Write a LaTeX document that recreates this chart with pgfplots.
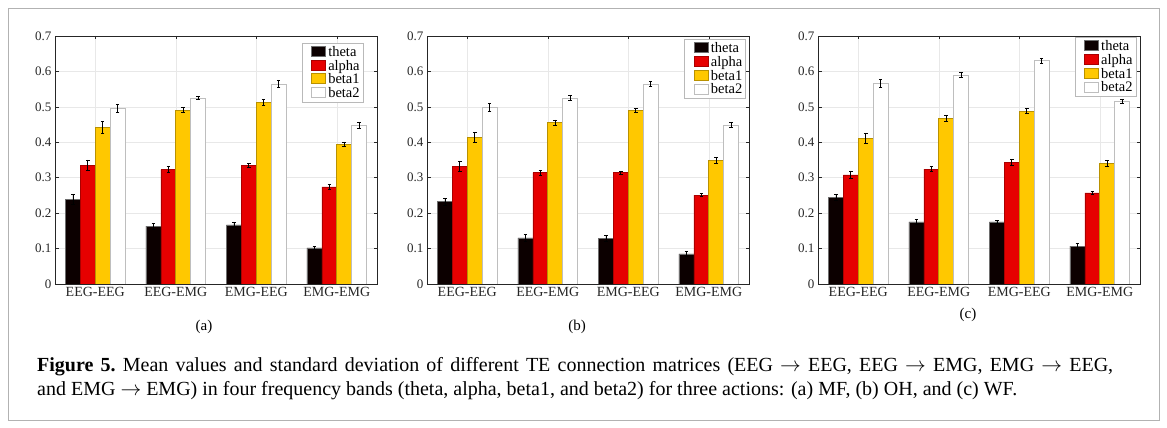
\documentclass[border=0pt]{standalone}
\usepackage{pgfplots}
\usepackage{pgfplotstable}
\pgfplotsset{compat=1.18}
\usepackage{fontspec}
\setmainfont{Liberation Serif}

\definecolor{cTheta}{RGB}{12,0,0}
\definecolor{cAlpha}{RGB}{230,0,0}
\definecolor{cBetaA}{RGB}{255,200,0}
\definecolor{eTheta}{RGB}{110,110,110}
\definecolor{eAlpha}{RGB}{170,0,0}
\definecolor{eBetaA}{RGB}{185,145,0}
\definecolor{eBetaB}{RGB}{190,190,190}
\definecolor{tickc}{RGB}{38,38,38}

% columns: x, theta (mean, sd), alpha, beta1, beta2
\pgfplotstableread{
x t te a ae b be c ce
1 0.239 0.014 0.335 0.015 0.443 0.017 0.495 0.012
2 0.163 0.008 0.323 0.009 0.491 0.008 0.525 0.005
3 0.167 0.008 0.335 0.005 0.513 0.008 0.564 0.010
4 0.102 0.005 0.274 0.008 0.395 0.006 0.447 0.009
}\dataA
\pgfplotstableread{
x t te a ae b be c ce
1 0.232 0.011 0.332 0.013 0.414 0.015 0.498 0.011
2 0.130 0.009 0.314 0.007 0.455 0.008 0.525 0.006
3 0.128 0.008 0.314 0.005 0.489 0.006 0.565 0.007
4 0.085 0.008 0.251 0.004 0.348 0.008 0.449 0.007
}\dataB
\pgfplotstableread{
x t te a ae b be c ce
1 0.244 0.008 0.308 0.011 0.411 0.014 0.567 0.011
2 0.175 0.007 0.324 0.007 0.468 0.008 0.590 0.007
3 0.175 0.005 0.343 0.008 0.488 0.007 0.630 0.008
4 0.107 0.008 0.257 0.005 0.340 0.008 0.515 0.006
}\dataC

\pgfplotsset{
  panel/.style={
    scale only axis, width=322pt, height=248pt,
    anchor=north west,
    ybar=0pt, bar width=0.185,
    xmin=0.5, xmax=4.5, ymin=0, ymax=0.7,
    xtick={1,2,3,4}, xticklabels={EEG-EEG,EEG-EMG,EMG-EEG,EMG-EMG},
    ytick={0,0.1,0.2,0.3,0.4,0.5,0.6,0.7},
    yticklabels={0,0.1,0.2,0.3,0.4,0.5,0.6,0.7},
    tick align=inside, xtick pos=both, ytick pos=both,
    major tick length=3.5pt,
    tick style={black!85, line width=0.5pt},
    axis line style={black!85, line width=0.7pt},
    grid=major, major grid style={black!9, line width=0.5pt},
    xticklabel style={font=\fontsize{14}{15}\selectfont, text=tickc},
    yticklabel style={font=\fontsize{13}{14}\selectfont, text=tickc},
    legend style={draw=gray!55, line width=0.6pt, fill=white,
      font=\fontsize{14.5}{15}\selectfont, inner sep=1.2pt, row sep=-1.8pt,
      cells={anchor=west, inner ysep=0.5pt, inner xsep=1pt}},
    legend cell align=left,
    legend image code/.code={\path[draw=none, fill=none] (0pt,0pt) -- (23pt,0pt);
      \draw[#1] (8pt,-4.3pt) rectangle (22pt,5.7pt);},
  },
  eb/.style={error bars/.cd, y dir=both, y explicit,
    error bar style={black, line width=0.8pt},
    error mark options={rotate=90, mark size=1.8pt, black, line width=0.8pt}},
  sT/.style={fill=cTheta, draw=eTheta, line width=0.6pt, bar shift=-0.2775},
  sA/.style={fill=cAlpha, draw=eAlpha, line width=0.6pt, bar shift=-0.0925},
  sB/.style={fill=cBetaA, draw=eBetaA, line width=0.6pt, bar shift=0.0925},
  sC/.style={fill=white, draw=eBetaB, line width=0.6pt, bar shift=0.2775},
}

\begin{document}
\begin{tikzpicture}
\path (0,0) rectangle (1167pt,428pt);
\draw[gray!60, line width=0.8pt] (8pt,8pt) rectangle (1159pt,420pt);

\begin{axis}[panel, at={(55pt,392pt)},
  legend style={at={(0.957,0.973)}, anchor=north east}]
\addplot[sT, eb] table[x=x, y=t, y error=te]{\dataA};
\addplot[sA, eb] table[x=x, y=a, y error=ae]{\dataA};
\addplot[sB, eb] table[x=x, y=b, y error=be]{\dataA};
\addplot[sC, eb] table[x=x, y=c, y error=ce]{\dataA};
\legend{theta,alpha,beta1,beta2}
\end{axis}

\begin{axis}[panel, at={(427pt,392pt)},
  legend style={at={(0.99,0.988)}, anchor=north east}]
\addplot[sT, eb] table[x=x, y=t, y error=te]{\dataB};
\addplot[sA, eb] table[x=x, y=a, y error=ae]{\dataB};
\addplot[sB, eb] table[x=x, y=b, y error=be]{\dataB};
\addplot[sC, eb] table[x=x, y=c, y error=ce]{\dataB};
\legend{theta,alpha,beta1,beta2}
\end{axis}

\begin{axis}[panel, at={(818pt,392pt)},
  legend style={at={(0.988,0.996)}, anchor=north east}]
\addplot[sT, eb] table[x=x, y=t, y error=te]{\dataC};
\addplot[sA, eb] table[x=x, y=a, y error=ae]{\dataC};
\addplot[sB, eb] table[x=x, y=b, y error=be]{\dataC};
\addplot[sC, eb] table[x=x, y=c, y error=ce]{\dataC};
\legend{theta,alpha,beta1,beta2}
\end{axis}

\node[font=\fontsize{15}{16}\selectfont] at (204pt,101pt) {(a)};
\node[font=\fontsize{15}{16}\selectfont] at (577pt,101pt) {(b)};
\node[font=\fontsize{15}{16}\selectfont] at (968pt,113pt) {(c)};

\node[anchor=west, align=left, inner sep=0pt, font=\fontsize{20}{24}\selectfont] at (37pt,49.5pt)
{\frenchspacing\makebox[1076pt][s]{\textbf{Figure 5.} Mean values and standard deviation of different TE connection matrices (EEG $\rightarrow$ EEG, EEG $\rightarrow$ EMG, EMG $\rightarrow$ EEG,}\\
and EMG $\rightarrow$ EMG) in four frequency bands (theta, alpha, beta1, and beta2) for three actions: (a) MF, (b) OH, and (c) WF.};
\end{tikzpicture}
\end{document}
